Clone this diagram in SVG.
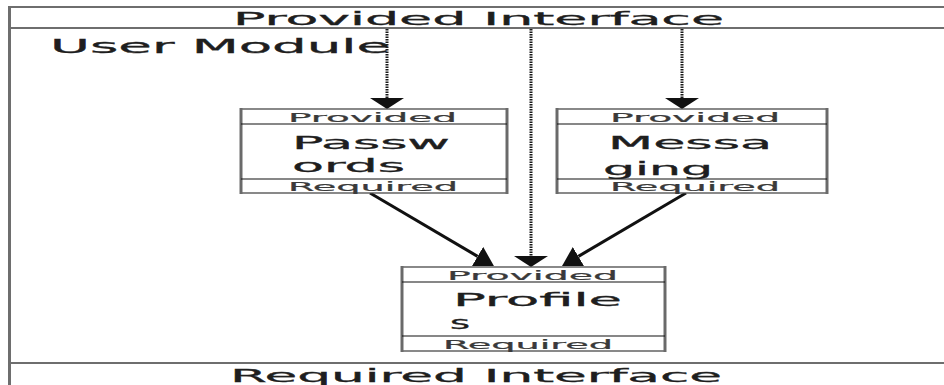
<svg xmlns="http://www.w3.org/2000/svg" width="944" height="385" viewBox="0 0 944 385">
<style>
  .frame { stroke: #6e6e6e; stroke-width: 2; fill: none; }
  .box { fill: #ffffff; stroke: #4a4a4a; stroke-width: 1.3; }
  .side { stroke: #6a6a6a; stroke-width: 3; }
  .div { stroke: #111; stroke-width: 1.2; }
  .t { font-family: "DejaVu Sans", Verdana, sans-serif; fill: #1e1e1e; stroke: #1e1e1e; stroke-width: 0.3; }
  .big { font-size: 17px; }
  .um { font-size: 19px; }
  .hdr { font-size: 12px; fill: #3a3a3a; stroke: #3a3a3a; stroke-width: 0.2; }
  .name { font-size: 17px; }
  .dot { stroke: #1a1a1a; stroke-width: 3; stroke-dasharray: 1.5 1; fill: none; }
  .solid { stroke: #111; stroke-width: 3; fill: none; }
</style>
<defs>
  <marker id="hv" markerUnits="userSpaceOnUse" markerWidth="12" markerHeight="34" refX="0" refY="17" orient="auto">
    <path d="M0,0 L11,17 L0,34 z" fill="#111"/>
  </marker>
  <marker id="hd" markerUnits="userSpaceOnUse" markerWidth="20" markerHeight="24" refX="0" refY="11" orient="auto">
    <path d="M0,0 L19,11 L0,22 z" fill="#111"/>
  </marker>
  <clipPath id="msgClip"><rect x="557" y="125" width="270" height="54"/></clipPath>
</defs>

<g id="frame">
  <line class="frame" x1="9" y1="7" x2="944" y2="7"/>
  <line class="frame" x1="9" y1="28" x2="944" y2="28"/>
  <line class="frame" x1="9" y1="363" x2="944" y2="363"/>
  <line x1="9.5" y1="6" x2="9.5" y2="385" stroke="#6e6e6e" stroke-width="3"/>
  <text class="t big" x="233" y="25" textLength="491" lengthAdjust="spacingAndGlyphs">Provided Interface</text>
  <text class="t um" x="50" y="53" textLength="340" lengthAdjust="spacingAndGlyphs">User Module</text>
  <text class="t big" x="230" y="382" textLength="492" lengthAdjust="spacingAndGlyphs">Required Interface</text>
</g>

<g id="connectors">
  <line class="dot" x1="387" y1="29" x2="387" y2="98" marker-end="url(#hv)"/>
  <line class="dot" x1="682" y1="29" x2="682" y2="98" marker-end="url(#hv)"/>
  <line class="dot" x1="531" y1="29" x2="531" y2="256" marker-end="url(#hv)"/>
  <line class="solid" x1="370" y1="193" x2="477.6" y2="256.4" marker-end="url(#hd)"/>
  <line class="solid" x1="686" y1="193" x2="578.4" y2="256.4" marker-end="url(#hd)"/>
</g>

<g id="passwords">
  <rect class="box" x="241" y="109" width="266" height="84"/>
  <line class="side" x1="241" y1="108" x2="241" y2="194"/>
  <line class="side" x1="507" y1="108" x2="507" y2="194"/>
  <line class="div" x1="241" y1="124" x2="507" y2="124"/>
  <line class="div" x1="241" y1="179" x2="507" y2="179"/>
  <text class="t hdr" x="288" y="122" textLength="169" lengthAdjust="spacingAndGlyphs">Provided</text>
  <text class="t name" x="292" y="149" textLength="158" lengthAdjust="spacingAndGlyphs">Passw</text>
  <text class="t name" x="292" y="172" textLength="113" lengthAdjust="spacingAndGlyphs">ords</text>
  <text class="t hdr" x="288" y="191" textLength="170" lengthAdjust="spacingAndGlyphs">Required</text>
</g>

<g id="messaging">
  <rect class="box" x="557" y="109" width="270" height="84"/>
  <line class="side" x1="557" y1="108" x2="557" y2="194"/>
  <line class="side" x1="827" y1="108" x2="827" y2="194"/>
  <line class="div" x1="557" y1="124" x2="827" y2="124"/>
  <line class="div" x1="557" y1="179" x2="827" y2="179"/>
  <text class="t hdr" x="610" y="122" textLength="170" lengthAdjust="spacingAndGlyphs">Provided</text>
  <g clip-path="url(#msgClip)">
    <text class="t name" x="608" y="149" textLength="164" lengthAdjust="spacingAndGlyphs">Messa</text>
    <text class="t name" x="603" y="175" textLength="110" lengthAdjust="spacingAndGlyphs">ging</text>
  </g>
  <text class="t hdr" x="610" y="191" textLength="170" lengthAdjust="spacingAndGlyphs">Required</text>
</g>

<g id="profiles">
  <rect class="box" x="402" y="267" width="263" height="84"/>
  <line class="side" x1="402" y1="266" x2="402" y2="352"/>
  <line class="side" x1="665" y1="266" x2="665" y2="352"/>
  <line class="div" x1="402" y1="282" x2="665" y2="282"/>
  <line class="div" x1="402" y1="336" x2="665" y2="336"/>
  <text class="t hdr" x="447" y="280" textLength="171" lengthAdjust="spacingAndGlyphs">Provided</text>
  <text class="t name" x="453" y="306" textLength="169" lengthAdjust="spacingAndGlyphs">Profile</text>
  <text class="t name" x="450" y="329" textLength="20" lengthAdjust="spacingAndGlyphs">s</text>
  <text class="t hdr" x="443" y="349" textLength="170" lengthAdjust="spacingAndGlyphs">Required</text>
</g>
</svg>
